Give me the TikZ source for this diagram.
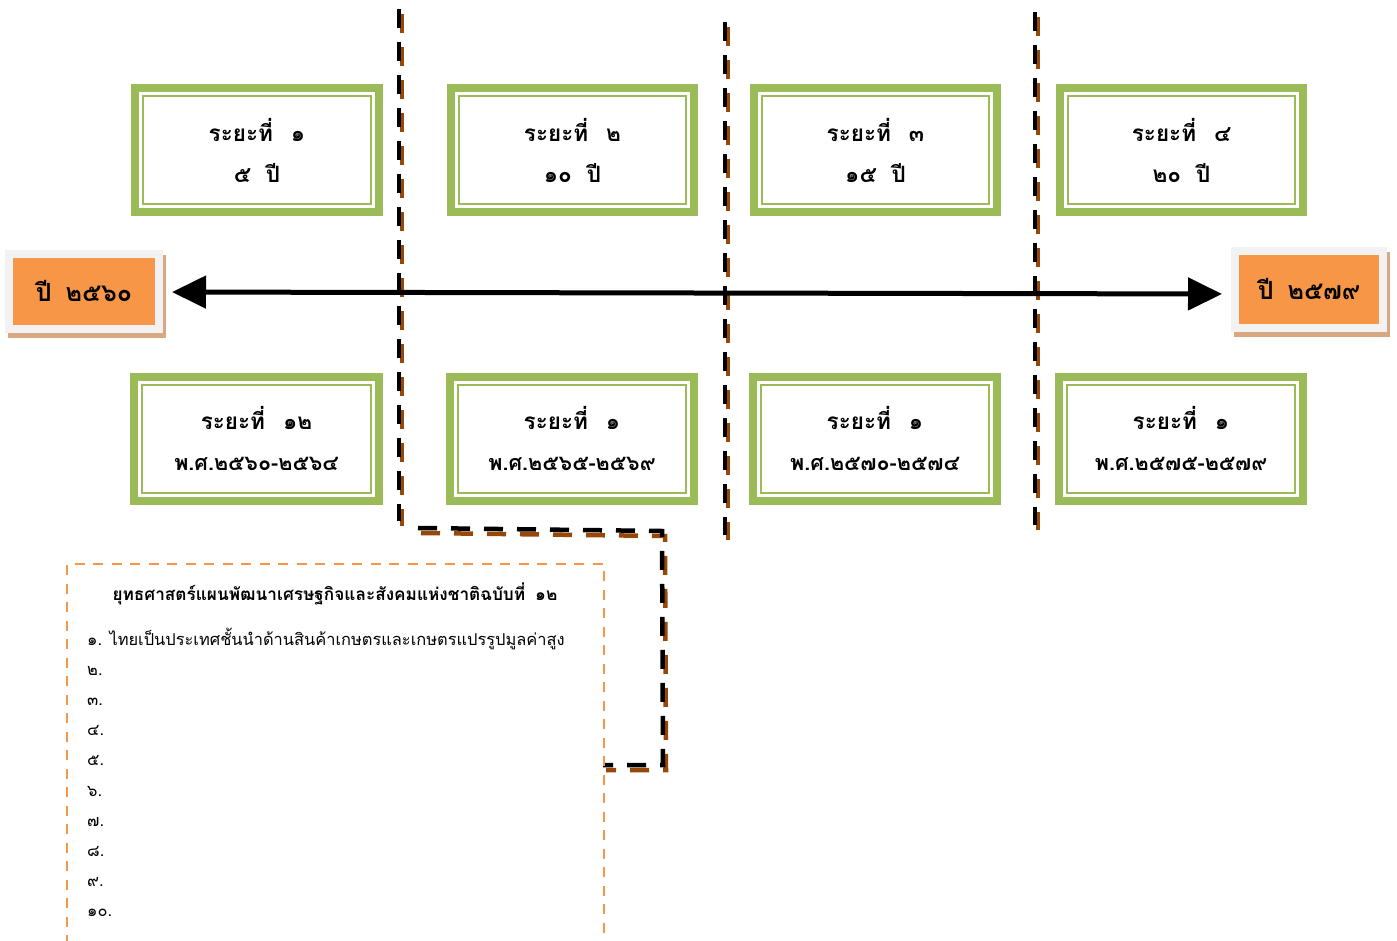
\documentclass[tikz,border=0pt]{standalone}
\usepackage{fontspec}
\newfontfamily\thaifont[Script=Thai]{Loma}
\usetikzlibrary{arrows.meta,backgrounds}
\definecolor{gr}{HTML}{9BBB59}
\definecolor{og}{HTML}{F79646}
\definecolor{gy}{HTML}{F2F2F2}
\definecolor{tn}{HTML}{D8A882}
\definecolor{br}{HTML}{984806}
\begin{document}
\begin{tikzpicture}[x=1pt,y=-1pt,
  gbox/.style={draw=gr, line width=8pt, outer sep=0pt, inner sep=0pt,
    minimum width=244pt, minimum height=124pt, align=center,
    font=\thaifont\bfseries\fontsize{22.5}{41}\selectfont},
  ybox/.style={draw=gy, fill=og, line width=8pt, outer sep=0pt, inner sep=0pt,
    font=\thaifont\bfseries\fontsize{25}{28}\selectfont},
  dashblack/.style={line width=4.5pt, dash pattern=on 19pt off 14pt, black},
  dashbrown/.style={line width=4.5pt, dash pattern=on 19pt off 14pt, br,
    transform canvas={xshift=3pt, yshift=-5pt}},
  odash/.style={og, line width=2.2pt, dash pattern=on 10pt off 8.5pt},
  item/.style={anchor=base west, inner sep=0pt, font=\thaifont\fontsize{16.4}{20}\selectfont},
  arr/.style={line width=5pt, {Triangle[length=34pt,width=32pt]}-{Triangle[length=34pt,width=32pt]}}
]
\useasboundingbox (0,0) rectangle (1397,940);

% dashed separator lines (shadow then black)
\coordinate (p1) at (399,9);
\coordinate (p2) at (399,521);
\coordinate (e1) at (418,528);
\coordinate (e2) at (662,531);
\coordinate (e3) at (663,765);
\coordinate (e4) at (603,765);
\coordinate (q1) at (725,22);
\coordinate (q2) at (725,535);
\coordinate (r1) at (1035,12);
\coordinate (r2) at (1035,525);
\draw[dashbrown] (p1) -- (p2);
\draw[dashbrown] (e1) -- (e2) -- (e3) -- (e4);
\draw[dashbrown] (q1) -- (q2);
\draw[dashbrown] (r1) -- (r2);
\draw[dashblack] (p1) -- (p2);
\draw[dashblack] (e1) -- (e2) -- (e3) -- (e4);
\draw[dashblack] (q1) -- (q2);
\draw[dashblack] (r1) -- (r2);

% top boxes
\node[gbox, minimum width=244pt] (t1) at (257,150) {ระยะที่\hspace{18pt}๑\\๕\hspace{15pt}ปี};
\node[gbox, minimum width=243pt] (t2) at (572.5,150) {ระยะที่\hspace{18pt}๒\\๑๐\hspace{15pt}ปี};
\node[gbox, minimum width=243pt] (t3) at (875.5,150) {ระยะที่\hspace{18pt}๓\\๑๕\hspace{15pt}ปี};
\node[gbox, minimum width=243pt] (t4) at (1181.5,150) {ระยะที่\hspace{18pt}๔\\๒๐\hspace{15pt}ปี};
% bottom boxes
\node[gbox, minimum width=245pt] (b1) at (256.5,439) {ระยะที่\hspace{18pt}๑๒\\{\fontsize{21.5}{41}\selectfont พ.ศ.๒๕๖๐-๒๕๖๔}};
\node[gbox, minimum width=244pt] (b2) at (572,439) {ระยะที่\hspace{18pt}๑\\{\fontsize{21.5}{41}\selectfont พ.ศ.๒๕๖๕-๒๕๖๙}};
\node[gbox, minimum width=244pt] (b3) at (875,439) {ระยะที่\hspace{18pt}๑\\{\fontsize{21.5}{41}\selectfont พ.ศ.๒๕๗๐-๒๕๗๔}};
\node[gbox, minimum width=244pt] (b4) at (1181,439) {ระยะที่\hspace{18pt}๑\\{\fontsize{21.5}{41}\selectfont พ.ศ.๒๕๗๕-๒๕๗๙}};
\foreach \n in {t1,t2,t3,t4,b1,b2,b3,b4}
  \draw[gr, line width=2pt] ([shift={(8pt,-8pt)}]\n.north west) rectangle ([shift={(-8pt,8pt)}]\n.south east);

% year boxes
\node[ybox, minimum width=150pt, minimum height=75pt] (y1) at (84,291.5) {ปี\hspace{14pt}๒๕๖๐};
\node[ybox, minimum width=148pt, minimum height=77pt] (y2) at (1309,289.5) {ปี\hspace{14pt}๒๕๗๙};
\begin{scope}[on background layer]
  \fill[tn] ([shift={(-1pt,-1pt)}]y1.north west) rectangle ([shift={(7pt,-9pt)}]y1.south east);
  \fill[tn] ([shift={(-1pt,-1pt)}]y2.north west) rectangle ([shift={(7pt,-9pt)}]y2.south east);
\end{scope}

% timeline arrow
\draw[arr, shorten <=13pt, shorten >=13pt] ([yshift=-0.5pt]y1.east) -- ([yshift=-4.5pt]y2.west);

% strategy box
\coordinate (o1) at (67,945);
\coordinate (o2) at (67,564);
\coordinate (o3) at (604,564);
\coordinate (o4) at (604,945);
\draw[odash] (o1) -- (o2) -- (o3) -- (o4);
\node[anchor=base, inner sep=0pt, font=\thaifont\bfseries\fontsize{17.2}{20}\selectfont] (title) at (335,600)
  {ยุทธศาสตร์แผนพัฒนาเศรษฐกิจและสังคมแห่งชาติฉบับที่\hspace{10pt}๑๒};
\node[item] (l1) at (87,645) {๑. ไทยเป็นประเทศชั้นนำด้านสินค้าเกษตรและเกษตรแปรรูปมูลค่าสูง};
\node[item] (l2) at (87,675.2) {๒.};
\node[item] (l3) at (87,705.4) {๓.};
\node[item] (l4) at (87,735.6) {๔.};
\node[item] (l5) at (87,765.8) {๕.};
\node[item] (l6) at (87,796) {๖.};
\node[item] (l7) at (87,826.2) {๗.};
\node[item] (l8) at (87,856.4) {๘.};
\node[item] (l9) at (87,886.6) {๙.};
\node[item] (l10) at (87,916.8) {๑๐.};
\end{tikzpicture}
\end{document}
